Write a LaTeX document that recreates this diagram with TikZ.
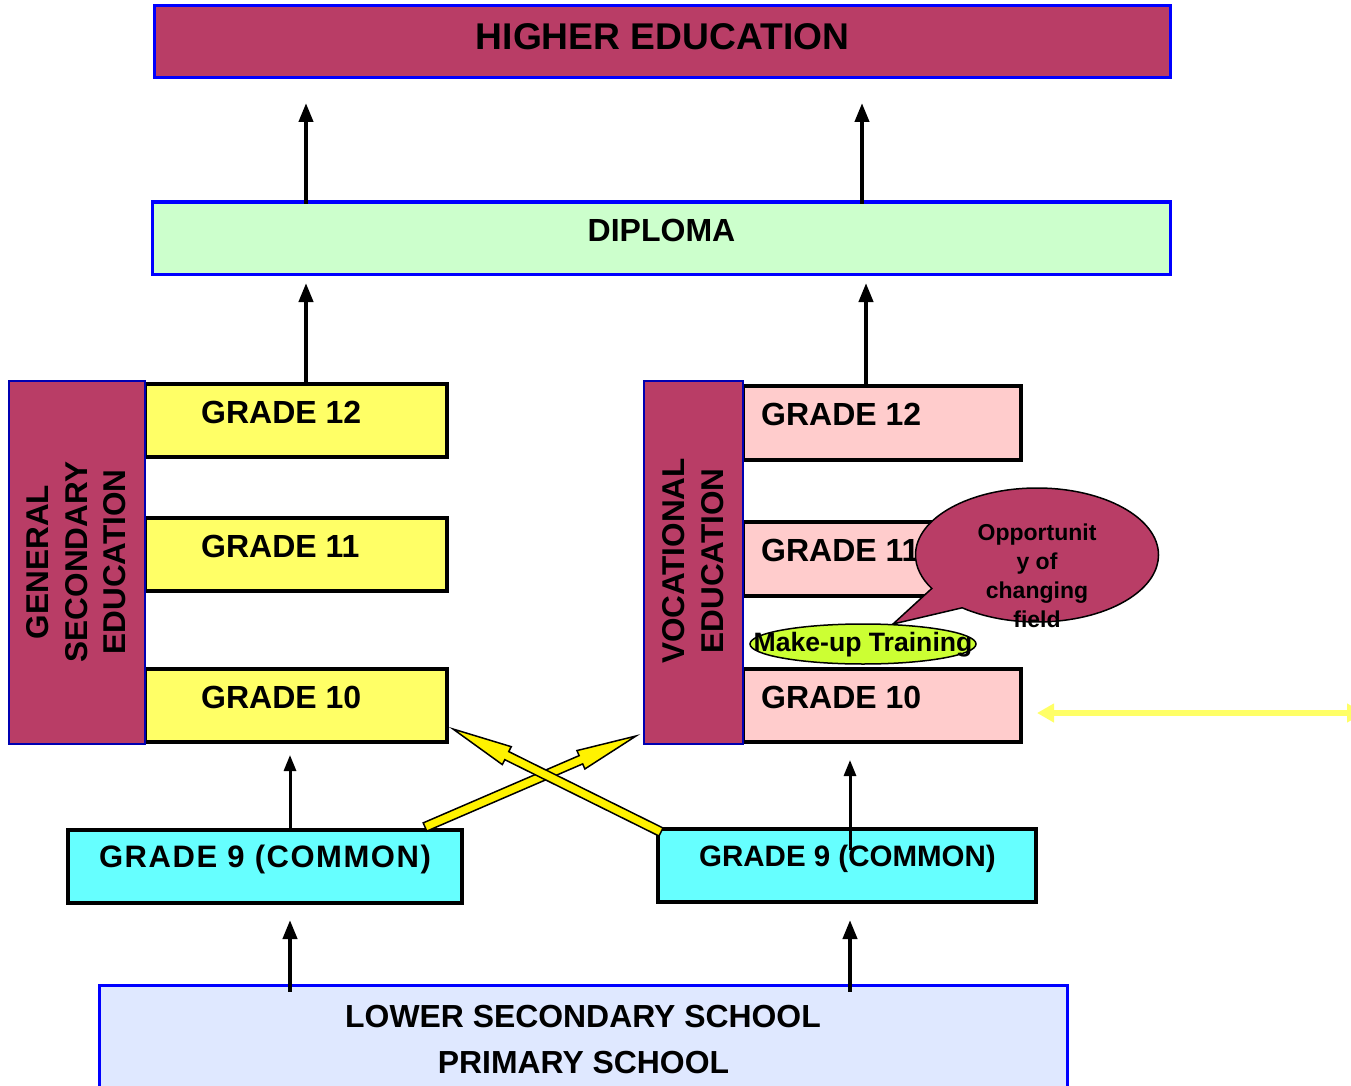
\documentclass[tikz,border=0pt]{standalone}
\usepackage{fontspec}
\setmainfont{Liberation Sans}
\usetikzlibrary{arrows.meta,calc,shapes.geometric,shapes.callouts}
\definecolor{crim}{HTML}{B93D66}
\definecolor{dipg}{HTML}{CCFFCC}
\definecolor{gyel}{HTML}{FFFF66}
\definecolor{gpink}{HTML}{FFCCCC}
\definecolor{gcyan}{HTML}{66FFFF}
\definecolor{lowb}{HTML}{DFE8FF}
\definecolor{mkup}{HTML}{CCFF33}
\definecolor{dblyel}{HTML}{FFFF66}
\newcommand\fatarr[2]{%
 \coordinate (fab) at ($(#2)!60pt!(#1)$);
 \filldraw[fill=yellow, draw=black, line width=1.5pt, line join=miter]
  ($(#1)!4.5pt!90:(#2)$) -- ($(fab)!4.5pt!90:(#2)$) -- ($(fab)!10pt!90:(#2)$) -- (#2)
  -- ($(fab)!10pt!-90:(#2)$) -- ($(fab)!4.5pt!-90:(#2)$) -- ($(#1)!4.5pt!-90:(#2)$) -- cycle;}
\begin{document}
\begin{tikzpicture}[x=1pt,y=-1pt,
  lbl/.style={font=\bfseries\fontsize{32}{37}\selectfont, inner sep=0pt},
  bbox/.style={draw=blue, line width=3pt, inner sep=0pt},
  gbox/.style={draw=black, line width=3.5pt, inner sep=0pt},
  sidebox/.style={draw=blue!70!black, line width=1.5pt, fill=crim, inner sep=0pt},
  up/.style={-{Triangle[length=19pt,width=14pt]}, line width=4pt},
  upthin/.style={-{Triangle[length=16pt,width=12pt]}, line width=3pt}]
\useasboundingbox (0,0) rectangle (1351,1086);
\fill[white] (0,0) rectangle (1351,1086);

% top boxes
\node[bbox, fill=crim, minimum width=1016pt, minimum height=72pt] (he) at (662,42) {};
\node[lbl, font=\bfseries\fontsize{37.2}{40}\selectfont] (het) at (662.5,37) {HIGHER EDUCATION};
\node[bbox, fill=dipg, minimum width=1018pt, minimum height=72pt] (dip) at (661,238) {};
\node[lbl] (dipt) at (661.5,230) {DIPLOMA};

% left grades
\node[gbox, fill=gyel, minimum width=302pt, minimum height=73pt] (lg12) at (296,420.5) {};
\node[gbox, fill=gyel, minimum width=302pt, minimum height=73pt] (lg11) at (296,554.5) {};
\node[gbox, fill=gyel, minimum width=302pt, minimum height=73pt] (lg10) at (296,705.5) {};
\node[lbl, anchor=west] (lg12t) at (201,412) {GRADE 12};
\node[lbl, anchor=west] (lg11t) at (201,546) {GRADE 11};
\node[lbl, anchor=west] (lg10t) at (201,697) {GRADE 10};
\node[sidebox, minimum width=136pt, minimum height=363pt] (gen) at (77,562.5) {};
\node[lbl, font=\bfseries\fontsize{31.5}{38.5}\selectfont, rotate=90, align=center] (gent) at (76.5,562) {GENERAL\\SECONDARY\\EDUCATION};

% right grades
\node[gbox, fill=gpink, minimum width=278pt, minimum height=74pt] (rg12) at (882,423) {};
\node[gbox, fill=gpink, minimum width=278pt, minimum height=74pt] (rg11) at (882,559) {};
\node[gbox, fill=gpink, minimum width=278pt, minimum height=73pt] (rg10) at (882,705.5) {};
\node[lbl, anchor=west] (rg12t) at (761,414) {GRADE 12};
\node[lbl, anchor=west] (rg11t) at (761,550) {GRADE 11};
\node[lbl, anchor=west] (rg10t) at (761,697) {GRADE 10};
\node[sidebox, minimum width=99pt, minimum height=363pt] (voc) at (693.5,562.5) {};
\node[lbl, font=\bfseries\fontsize{31.5}{39}\selectfont, rotate=90, align=center] (voct) at (693,561) {VOCATIONAL\\EDUCATION};

% speech bubble
\node[ellipse callout, draw=black, fill=crim, line width=1.5pt, minimum width=243pt, minimum height=134pt,
  callout absolute pointer={(893,624)}, callout pointer arc=22] (bub) at (1037,555) {};
\node[ellipse, draw=black, fill=mkup, line width=1.5pt, minimum width=226pt, minimum height=40pt, inner sep=0pt] (mu) at (863,644) {};
\node[lbl, font=\bfseries\fontsize{26.6}{30}\selectfont] (mut) at (863,645) {Make-up Training};
\node[lbl, font=\bfseries\fontsize{23}{29}\selectfont, align=center] (bubt) at (1037,575.5) {Opportunit\\y of\\changing\\field};

% yellow double arrow
\coordinate (yl) at (1037,713);
\coordinate (yr) at (1364,713);
\draw[{Triangle[length=17pt,width=18pt]}-{Triangle[length=17pt,width=18pt]}, line width=6pt, draw=dblyel] (yl) -- (yr);

% grade 9
\node[gbox, fill=gcyan, minimum width=394pt, minimum height=73pt] (g9l) at (265,866.5) {};
\node[lbl, font=\bfseries\fontsize{31}{37}\selectfont\addfontfeature{LetterSpace=5}] (g9lt) at (265,859) {GRADE 9 (COMMON)};
\node[gbox, fill=gcyan, minimum width=378pt, minimum height=73pt] (g9r) at (847,865.5) {};
\node[lbl, font=\bfseries\fontsize{29.5}{35}\selectfont] (g9rt) at (847.5,859) {GRADE 9 (COMMON)};

% lower box
\node[bbox, fill=lowb, minimum width=968pt, minimum height=107pt] (low) at (583,1038.5) {};
\node[lbl, font=\bfseries\fontsize{31.9}{37}\selectfont] (lowt1) at (583,1017) {LOWER SECONDARY SCHOOL};
\node[lbl, font=\bfseries\fontsize{31.9}{37}\selectfont] (lowt2) at (583.5,1063) {PRIMARY SCHOOL};

% black arrows
\coordinate (xa) at (306,0); \coordinate (xb) at (862,0); \coordinate (xc) at (866,0);
\coordinate (xd) at (290,0); \coordinate (xe) at (850,0);
\coordinate (t1) at (306,103); \coordinate (t2) at (862,103);
\coordinate (t3) at (306,283); \coordinate (t4) at (866,283);
\coordinate (t5) at (290,755); \coordinate (t6) at (850,760);
\coordinate (t7) at (290,920); \coordinate (t8) at (850,920);
\coordinate (s6) at (850,850);
\draw[up] ($(dip.north -| xa)+(0,3)$) -- (t1);
\draw[up] ($(dip.north -| xb)+(0,3)$) -- (t2);
\draw[up] (lg12.north -| xa) -- (t3);
\draw[up] (rg12.north -| xc) -- (t4);
\draw[upthin] (g9l.north -| xd) -- (t5);
\draw[upthin] (s6) -- (t6);
\draw[up] ($(low.north -| xd)+(0,8)$) -- (t7);
\draw[up] ($(low.north -| xe)+(0,8)$) -- (t8);

% crossing fat arrows
\coordinate (f1s) at (425,827); \coordinate (f1t) at (636,736);
\coordinate (f2s) at (661,832); \coordinate (f2t) at (453,729);
\fatarr{f1s}{f1t}
\fatarr{f2s}{f2t}
\end{tikzpicture}
\end{document}
